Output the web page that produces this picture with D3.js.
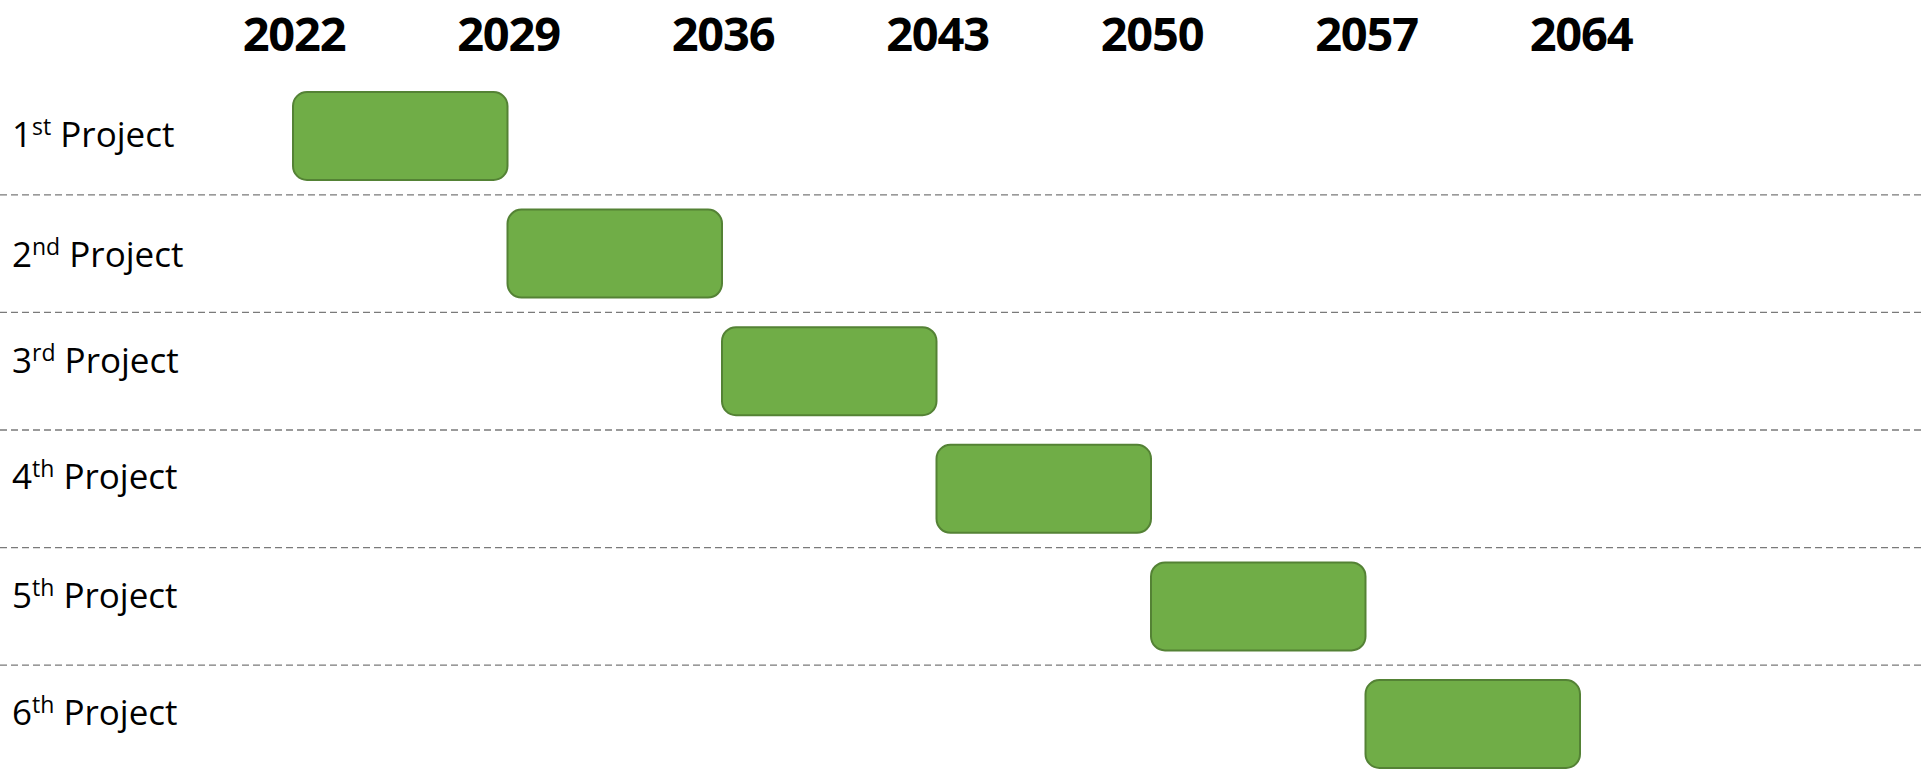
<!DOCTYPE html>
<html>
<head>
<meta charset="utf-8">
<script src="https://d3js.org/d3.v7.min.js"></script>
<style>
  body { margin: 0; background: #fff; }
  .year { font-family: "Open Sans", sans-serif; font-weight: 700; font-size: 47px; letter-spacing: -1.2px; fill: #000; }
  .label { font-family: "Open Sans", sans-serif; font-size: 35px; fill: #000; }
</style>
</head>
<body>
<script>
  var width = 1921, height = 770;

  // data
  var years = [2022, 2029, 2036, 2043, 2050, 2057, 2064];
  var ordinals = ["1", "2", "3", "4", "5", "6"];
  var suffixes = ["st", "nd", "rd", "th", "th", "th"];
  var starts = [2022, 2029, 2036, 2043, 2050, 2057];
  var ends = [2029, 2036, 2043, 2050, 2057, 2064];

  // label baseline offsets from row centre (the labels are not quite aligned in the original)
  var labelDy = [11, 13, 2, 0, 2, 1];

  var svg = d3.select("body").append("svg")
      .attr("width", width).attr("height", height);

  var x = d3.scaleLinear().domain([2022, 2064]).range([293, 1580]);
  var y = d3.scalePoint().domain(d3.range(ordinals.length)).range([136, 724]);
  var barH = 88;

  // dashed separators between rows
  var seps = d3.range(ordinals.length - 1).map(function(i) { return (y(i) + y(i + 1)) / 2; });
  svg.append("g").selectAll("line").data(seps).enter().append("line")
      .attr("x1", 0).attr("x2", width)
      .attr("y1", function(d) { return d; }).attr("y2", function(d) { return d; })
      .attr("stroke", "#7a7a7a").attr("stroke-width", 1.3)
      .attr("stroke-dasharray", "7,4");

  // year labels on top
  svg.append("g").selectAll("text").data(years).enter().append("text")
      .classed("year", true)
      .attr("x", function(d) { return x(d) + 1; })
      .attr("y", 50.5)
      .attr("text-anchor", "middle")
      .text(function(d) { return d; });

  // bars
  svg.append("g").selectAll("rect").data(starts).enter().append("rect")
      .attr("x", function(d) { return x(d); })
      .attr("y", function(d, i) { return y(i) - barH / 2; })
      .attr("width", function(d, i) { return x(ends[i]) - x(d); })
      .attr("height", barH)
      .attr("rx", 14).attr("ry", 14)
      .attr("fill", "#70ad47")
      .attr("stroke", "#548235").attr("stroke-width", 2);

  // row labels
  var labels = svg.append("g").selectAll("text").data(ordinals).enter().append("text")
      .classed("label", true)
      .attr("x", 12)
      .attr("y", function(d, i) { return y(i) + labelDy[i]; });
  labels.append("tspan").text(function(d) { return d; });
  labels.append("tspan").attr("dy", -12).attr("font-size", 23)
      .text(function(d, i) { return suffixes[i]; });
  labels.append("tspan").attr("dy", 12).text(" Project");
</script>
</body>
</html>
